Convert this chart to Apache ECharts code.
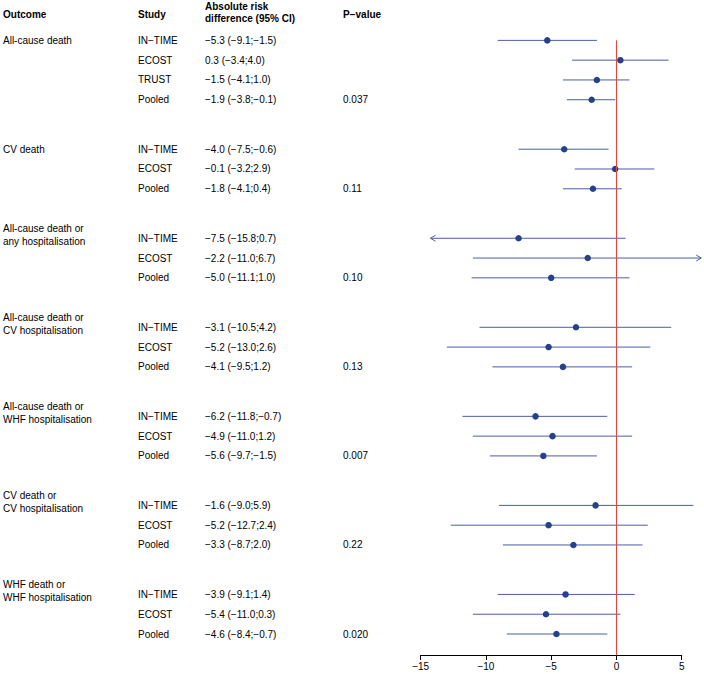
<!DOCTYPE html>
<html lang="en">
<head>
    <meta charset="UTF-8">
    <title>Forest plot</title>
    <script src="https://cdn.jsdelivr.net/npm/echarts@6/dist/echarts.min.js"></script>
    <style>
        html, body { margin: 0; padding: 0; background: #fff; }
        #chart { width: 704px; height: 674px; }
    </style>
</head>
<body>
<div id="chart"></div>
<script>
    // data
    var outcomes = [
        'All-cause death',
        'CV death',
        'All-cause death or\nany hospitalisation',
        'All-cause death or\nCV hospitalisation',
        'All-cause death or\nWHF hospitalisation',
        'CV death or\nCV hospitalisation',
        'WHF death or\nWHF hospitalisation'
    ];
    var studies = [
        ['IN−TIME', 'ECOST', 'TRUST', 'Pooled'],
        ['IN−TIME', 'ECOST', 'Pooled'],
        ['IN−TIME', 'ECOST', 'Pooled'],
        ['IN−TIME', 'ECOST', 'Pooled'],
        ['IN−TIME', 'ECOST', 'Pooled'],
        ['IN−TIME', 'ECOST', 'Pooled'],
        ['IN−TIME', 'ECOST', 'Pooled']
    ];
    var estimates = [
        [-5.3, 0.3, -1.5, -1.9],
        [-4.0, -0.1, -1.8],
        [-7.5, -2.2, -5.0],
        [-3.1, -5.2, -4.1],
        [-6.2, -4.9, -5.6],
        [-1.6, -5.2, -3.3],
        [-3.9, -5.4, -4.6]
    ];
    var lower = [
        [-9.1, -3.4, -4.1, -3.8],
        [-7.5, -3.2, -4.1],
        [-15.8, -11.0, -11.1],
        [-10.5, -13.0, -9.5],
        [-11.8, -11.0, -9.7],
        [-9.0, -12.7, -8.7],
        [-9.1, -11.0, -8.4]
    ];
    var upper = [
        [-1.5, 4.0, 1.0, -0.1],
        [-0.6, 2.9, 0.4],
        [0.7, 6.7, 1.0],
        [4.2, 2.6, 1.2],
        [-0.7, 1.2, -1.5],
        [5.9, 2.4, 2.0],
        [1.4, 0.3, -0.7]
    ];
    var pValues = ['0.037', '0.11', '0.10', '0.13', '0.007', '0.22', '0.020'];
    var headers = ['Outcome', 'Study', 'Absolute risk\ndifference (95% CI)', 'P−value'];

    // layout
    var ROW = 19.8;            // px per row
    var GROUP_GAP = 2.5;       // rows between groups
    var CLIP = [-14.25, 6.5];  // where CI lines get an arrow
    var COLS = [3, 138, 205, 343];
    var FONT = 'Liberation Sans, Arial, Helvetica, sans-serif';
    var FS = 10;
    var Y_MIN = -40 / ROW;
    var Y_MAX = (655 - 40) / ROW;

    function fmt(v) {
        var s = Math.abs(v).toFixed(1);
        return v < 0 ? '−' + s : s;
    }

    var ciData = [];
    var pointData = [];
    var texts = [];

    headers.forEach(function (h, i) {
        var twoLine = h.indexOf('\n') >= 0;
        texts.push({x: COLS[i], row: twoLine ? -1.41 : -1.31, text: h, bold: true});
    });

    var row = 0;
    outcomes.forEach(function (o, g) {
        var multi = o.indexOf('\n') >= 0;
        texts.push({x: COLS[0], row: row - (multi ? 0.15 : 0), text: o});
        studies[g].forEach(function (s, k) {
            var est = estimates[g][k], lo = lower[g][k], hi = upper[g][k];
            ciData.push([est, lo, hi, row]);
            pointData.push([est, row]);
            texts.push({x: COLS[1], row: row, text: s});
            texts.push({x: COLS[2], row: row, text: fmt(est) + ' (' + fmt(lo) + ';' + fmt(hi) + ')'});
            if (k === studies[g].length - 1) {
                texts.push({x: COLS[3], row: row, text: pValues[g]});
            }
            row++;
        });
        row += GROUP_GAP - 1;
    });

    var BLUE_LINE = '#4a5ea6';
    var BLUE_DOT = '#27408b';

    var chart = echarts.init(document.getElementById('chart'), null, {renderer: 'svg'});
    var option = {
        animation: false,
        backgroundColor: '#fff',
        grid: [
            {left: 420.7, right: 22.3, top: 0.4, bottom: 19},
            {left: 0, width: 420.7, top: 0.4, bottom: 19}
        ],
        xAxis: [
            {
                gridIndex: 0, type: 'value', min: -15, max: 5, interval: 5,
                position: 'bottom',
                splitLine: {show: false},
                axisLine: {show: true, onZero: false, lineStyle: {color: '#000', width: 1}},
                axisTick: {show: true, length: 5, lineStyle: {color: '#000'}},
                axisLabel: {
                    color: '#000', fontSize: FS, fontFamily: FONT, margin: 6,
                    formatter: function (v) { return v < 0 ? '−' + Math.abs(v) : String(v); }
                }
            },
            {gridIndex: 1, type: 'value', min: 0, max: 420.7, show: false}
        ],
        yAxis: [
            {gridIndex: 0, type: 'value', min: Y_MIN, max: Y_MAX, inverse: true, show: false},
            {gridIndex: 1, type: 'value', min: Y_MIN, max: Y_MAX, inverse: true, show: false}
        ],
        series: [
            {
                type: 'custom',
                xAxisIndex: 0, yAxisIndex: 0,
                data: ciData,
                encode: {x: [0, 1, 2], y: 3},
                renderItem: function (params, api) {
                    var lo = api.value(1), hi = api.value(2), r = api.value(3);
                    var p1 = api.coord([Math.max(lo, CLIP[0]), r]);
                    var p2 = api.coord([Math.min(hi, CLIP[1]), r]);
                    var st = {stroke: BLUE_LINE, lineWidth: 1, fill: null};
                    var kids = [{type: 'line', shape: {x1: p1[0], y1: p1[1], x2: p2[0], y2: p2[1]}, style: st}];
                    if (lo < CLIP[0]) {
                        kids.push({type: 'polyline', shape: {points: [[p1[0] + 5, p1[1] - 3], [p1[0], p1[1]], [p1[0] + 5, p1[1] + 3]]}, style: st});
                    }
                    if (hi > CLIP[1]) {
                        kids.push({type: 'polyline', shape: {points: [[p2[0] - 5, p2[1] - 3], [p2[0], p2[1]], [p2[0] - 5, p2[1] + 3]]}, style: st});
                    }
                    return {type: 'group', children: kids};
                },
                z: 2
            },
            {
                type: 'scatter',
                xAxisIndex: 0, yAxisIndex: 0,
                data: pointData,
                symbol: 'circle',
                symbolSize: 6.5,
                itemStyle: {color: BLUE_DOT, opacity: 1},
                markLine: {
                    silent: true,
                    symbol: ['none', 'none'],
                    label: {show: false},
                    lineStyle: {color: '#e0453d', width: 1, type: 'solid'},
                    data: [[{coord: [0, 0]}, {coord: [0, Y_MAX]}]]
                },
                z: 3
            },
            {
                type: 'custom',
                xAxisIndex: 1, yAxisIndex: 1,
                data: texts.map(function (t) { return [t.x, t.row]; }),
                renderItem: function (params, api) {
                    var t = texts[params.dataIndex];
                    var p = api.coord([api.value(0), api.value(1)]);
                    return {
                        type: 'text',
                        x: p[0], y: p[1],
                        style: {
                            text: t.text,
                            fill: '#000',
                            fontSize: FS,
                            fontFamily: FONT,
                            fontWeight: t.bold ? 'bold' : 'normal',
                            lineHeight: t.bold ? 11.5 : 13,
                            align: 'left',
                            verticalAlign: 'middle'
                        }
                    };
                }
            }
        ]
    };
    chart.setOption(option);
</script>
</body>
</html>
